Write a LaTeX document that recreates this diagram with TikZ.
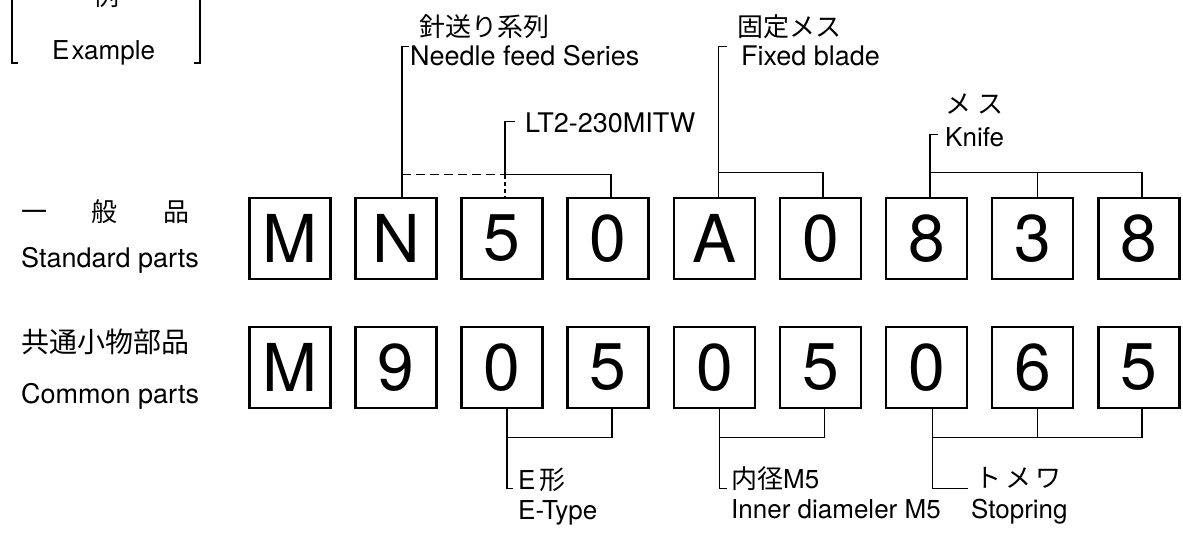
\documentclass[tikz,border=0pt]{standalone}
\usepackage{fontspec}
\setmainfont{TeX Gyre Heros}
\newfontfamily\jp{Noto Sans CJK JP}
\usetikzlibrary{calc}
\begin{document}
\begin{tikzpicture}[x=1pt,y=-1pt,
  digit/.style={draw, line width=2.4pt, minimum width=81pt, minimum height=81pt, inner sep=0pt, font=\fontsize{66}{66}\selectfont},
  lab/.style={inner sep=0pt, font=\fontsize{26}{26}\selectfont},
  rlab/.style={inner sep=0pt, font=\fontsize{27}{27}\selectfont},
  tlab/.style={inner sep=0pt, font=\fontsize{27}{27}\selectfont},
  jlab/.style={inner sep=0pt, font=\jp\fontsize{26}{26}\selectfont},
  conn/.style={line width=1.1pt},
  dashconn/.style={line width=1.1pt, dash pattern=on 9pt off 5pt},
]
\useasboundingbox (0,0) rectangle (1183,534);

% Example frame
\node[jlab] (rei) at (106,-4) {例};
\node[lab, anchor=base west] (example) at (52,60) {E\hspace{2pt}xample};
\coordinate (lbt) at (12,-10);
\coordinate (lbb) at (12,63);
\coordinate (rbt) at (200,-10);
\coordinate (rbb) at (200,63);
\draw[conn] (lbt) -- (lbb) -- ++(6,0);
\draw[conn] (rbt) -- (rbb) -- ++(-6,0);

% row labels
\node[jlab, anchor=west] (ippan) at (21,212) {一\hspace{44pt}般\hspace{46pt}品};
\node[rlab, anchor=base west] (std) at (21,268) {Standard parts};
\node[jlab, anchor=west] (kyotsu) at (21,342) {\fontsize{28}{28}\selectfont 共通小物部品};
\node[rlab, anchor=base west] (common) at (21,403) {Common parts};

% top row boxes
\node[digit] (t1) at (290,238.5) {M};
\node[digit] (t2) at (396,238.5) {N};
\node[digit] (t3) at (502,238.5) {5};
\node[digit] (t4) at (608,238.5) {0};
\node[digit] (t5) at (714.5,238.5) {A};
\node[digit] (t6) at (820.5,238.5) {0};
\node[digit] (t7) at (926.5,238.5) {8};
\node[digit] (t8) at (1032.5,238.5) {3};
\node[digit] (t9) at (1139,238.5) {8};

% bottom row boxes
\node[digit] (b1) at (290,367.5) {M};
\node[digit] (b2) at (396,367.5) {9};
\node[digit] (b3) at (502,367.5) {0};
\node[digit] (b4) at (608,367.5) {5};
\node[digit] (b5) at (714.5,367.5) {0};
\node[digit] (b6) at (820.5,367.5) {5};
\node[digit] (b7) at (926.5,367.5) {0};
\node[digit] (b8) at (1032.5,367.5) {6};
\node[digit] (b9) at (1139,367.5) {5};

% top labels
\node[jlab, anchor=west] (jneedle) at (419,27) {針送り系列};
\node[tlab, anchor=base west] (needle) at (410,66) {Needle feed Series};
\node[tlab, anchor=base west] (lt2) at (525,133) {LT2-230MITW};
\node[jlab, anchor=west] (jfixed) at (737,27) {固定メス};
\node[tlab, anchor=base west] (fixed) at (741,66) {Fixed blade};
\node[jlab, anchor=west] (jknife) at (945,104) {メ\hspace{6pt}ス};
\node[lab, anchor=base west] (knife) at (945,147) {Knife};

% top connectors
\draw[conn] ($(t2.north)+(6,0)$) -- ($(t2.north)+(6,-150)$) -- ++(7,0);
\coordinate (a2) at ($(t2.north)+(6,-22)$);
\coordinate (a3) at ($(t3.north)+(3,-22)$);
\coordinate (a4) at ($(t4.north)+(3,-22)$);
\draw[dashconn] (a2) -- (a3);
\draw[conn] (a3) -- (a4) -- ($(t4.north)+(3,0)$);
\draw[conn] ($(t3.north)+(13,-75)$) -- ($(t3.north)+(3,-75)$) -- (a3);
\draw[conn, dash pattern=on 4pt off 3pt] (a3) -- ($(t3.north)+(3,0)$);

\draw[conn] ($(t5.north)+(12,-150)$) -- ($(t5.north)+(4,-150)$) -- ($(t5.north)+(4,0)$);
\draw[conn] ($(t5.north)+(4,-24)$) -- ($(t6.north)+(2.5,-24)$) -- ($(t6.north)+(2.5,0)$);

\draw[conn] ($(t7.north)+(11,-62)$) -- ($(t7.north)+(3.5,-62)$) -- ($(t7.north)+(3.5,0)$);
\draw[conn] ($(t7.north)+(3.5,-24)$) -- ($(t9.north)+(3,-24)$) -- ($(t9.north)+(3,0)$);
\draw[conn] ($(t8.north)+(5,-24)$) -- ($(t8.north)+(5,0)$);

% bottom labels
\node[jlab, anchor=west] (jetype) at (518,480) {{\normalfont E}\hspace{4pt}形};
\node[lab, anchor=base west] (etype) at (518,519) {E-Type};
\node[jlab, anchor=west] (jinner) at (731,479) {内径{\normalfont M5}};
\node[lab, anchor=base west] (inner) at (731,518) {Inner diameler M5};
\node[jlab, anchor=west] (jstop) at (975,478) {ト\hspace{4pt}メ\hspace{4pt}ワ};
\node[lab, anchor=base west] (stop) at (971,518) {Stopring};

% bottom connectors
\draw[conn] ($(b3.south)+(5,0)$) -- ($(b3.south)+(5,79)$) -- ++(6,0);
\draw[conn] ($(b3.south)+(5,28)$) -- ($(b4.south)+(4,28)$) -- ($(b4.south)+(4,0)$);
\draw[conn] ($(b5.south)+(5,0)$) -- ($(b5.south)+(5,79)$) -- ++(7,0);
\draw[conn] ($(b5.south)+(5,28)$) -- ($(b6.south)+(4,28)$) -- ($(b6.south)+(4,0)$);
\draw[conn] ($(b7.south)+(6,0)$) -- ($(b7.south)+(6,79)$) -- ++(35,0);
\draw[conn] ($(b7.south)+(6,28)$) -- ($(b9.south)+(3,28)$) -- ($(b9.south)+(3,0)$);
\draw[conn] ($(b8.south)+(5,28)$) -- ($(b8.south)+(5,0)$);
\end{tikzpicture}
\end{document}
